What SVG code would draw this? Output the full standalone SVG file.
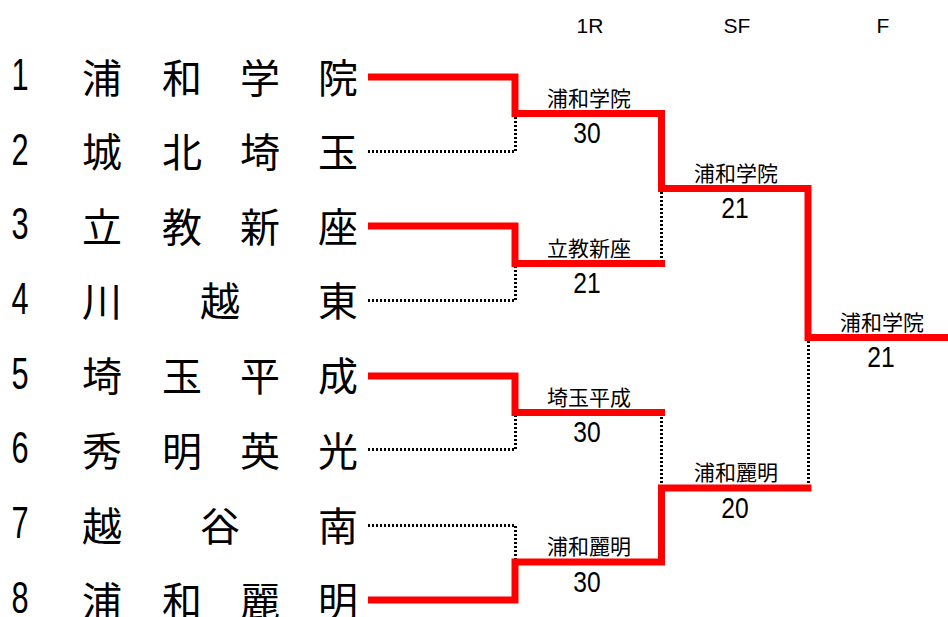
<svg xmlns="http://www.w3.org/2000/svg" width="948" height="617" viewBox="0 0 948 617">
<style>
.bg{fill:#fff}
.hdr{font-family:"Liberation Sans",Arial,sans-serif;font-size:21px;fill:#000;text-anchor:middle}
.num{font-family:"Liberation Sans",Arial,sans-serif;font-size:44px;fill:#000;text-anchor:middle}
.team{font-family:"Noto Sans CJK JP","Noto Sans CJK SC",sans-serif;font-size:40px;fill:#000;text-anchor:middle}
.lbl{font-family:"Noto Sans CJK JP","Noto Sans CJK SC",sans-serif;font-size:21px;fill:#000;text-anchor:middle}
.score{font-family:"Liberation Sans",Arial,sans-serif;font-size:29px;fill:#000;text-anchor:middle}
.win{fill:none;stroke:#ff0000;stroke-width:7;stroke-linejoin:miter;stroke-linecap:butt}
.lose{fill:none;stroke:#000;stroke-width:3;stroke-dasharray:2 2;shape-rendering:crispEdges}
</style>
<rect class="bg" x="0" y="0" width="948" height="617"/>
<g id="headers">
<text class="hdr" x="590" y="33">1R</text>
<text class="hdr" x="737" y="33">SF</text>
<text class="hdr" x="883" y="33">F</text>
</g>
<g id="connectors">
<path class="lose" d="M368,151.5 H515.5 V117"/>
<path class="lose" d="M368,300.5 H515.5 V267"/>
<path class="lose" d="M368,449.5 H515.5 V416"/>
<path class="lose" d="M368,525.5 H515.5 V558.5"/>
<path class="lose" d="M661.5,192 V263.5"/>
<path class="lose" d="M661.5,412.5 V484.5"/>
<path class="lose" d="M808.5,341 V488"/>
<path class="win" d="M368,77 H515 V113.5 H661.5 V188.5 H808 V337.5 H948"/>
<path class="win" d="M368,226 H515 V263.5 H665"/>
<path class="win" d="M368,376 H515 V412.5 H665"/>
<path class="win" d="M368,600 H515 V562 H661.5 V488 H811.5"/>
</g>
<g id="team1"><text class="num" transform="translate(20,90) scale(0.7,1)">1</text><text class="team" y="92.5"><tspan x="102">浦</tspan><tspan x="182">和</tspan><tspan x="260">学</tspan><tspan x="338">院</tspan></text></g>
<g id="team2"><text class="num" transform="translate(20,164.5) scale(0.7,1)">2</text><text class="team" y="167"><tspan x="102">城</tspan><tspan x="182">北</tspan><tspan x="260">埼</tspan><tspan x="338">玉</tspan></text></g>
<g id="team3"><text class="num" transform="translate(20,239) scale(0.7,1)">3</text><text class="team" y="241.5"><tspan x="102">立</tspan><tspan x="182">教</tspan><tspan x="260">新</tspan><tspan x="338">座</tspan></text></g>
<g id="team4"><text class="num" transform="translate(20,313.5) scale(0.7,1)">4</text><text class="team" y="316"><tspan x="102">川</tspan><tspan x="220">越</tspan><tspan x="338">東</tspan></text></g>
<g id="team5"><text class="num" transform="translate(20,388.5) scale(0.7,1)">5</text><text class="team" y="391"><tspan x="102">埼</tspan><tspan x="182">玉</tspan><tspan x="260">平</tspan><tspan x="338">成</tspan></text></g>
<g id="team6"><text class="num" transform="translate(20,463) scale(0.7,1)">6</text><text class="team" y="465.5"><tspan x="102">秀</tspan><tspan x="182">明</tspan><tspan x="260">英</tspan><tspan x="338">光</tspan></text></g>
<g id="team7"><text class="num" transform="translate(20,538) scale(0.7,1)">7</text><text class="team" y="540.5"><tspan x="102">越</tspan><tspan x="220">谷</tspan><tspan x="338">南</tspan></text></g>
<g id="team8"><text class="num" transform="translate(20,613) scale(0.7,1)">8</text><text class="team" y="615.5"><tspan x="102">浦</tspan><tspan x="182">和</tspan><tspan x="260">麗</tspan><tspan x="338">明</tspan></text></g>
<g id="r1m1"><text class="lbl" x="589" y="105.5">浦和学院</text><text class="score" transform="translate(587,143) scale(0.85,1)">30</text></g>
<g id="r1m2"><text class="lbl" x="589" y="255.5">立教新座</text><text class="score" transform="translate(587,293) scale(0.85,1)">21</text></g>
<g id="r1m3"><text class="lbl" x="589" y="404.5">埼玉平成</text><text class="score" transform="translate(587,442) scale(0.85,1)">30</text></g>
<g id="r1m4"><text class="lbl" x="589" y="554">浦和麗明</text><text class="score" transform="translate(587,591.5) scale(0.85,1)">30</text></g>
<g id="sf1"><text class="lbl" x="736" y="180.5">浦和学院</text><text class="score" transform="translate(735,218) scale(0.85,1)">21</text></g>
<g id="sf2"><text class="lbl" x="736" y="480">浦和麗明</text><text class="score" transform="translate(735,517.5) scale(0.85,1)">20</text></g>
<g id="final"><text class="lbl" x="882" y="329.5">浦和学院</text><text class="score" transform="translate(881,367) scale(0.85,1)">21</text></g>
</svg>
